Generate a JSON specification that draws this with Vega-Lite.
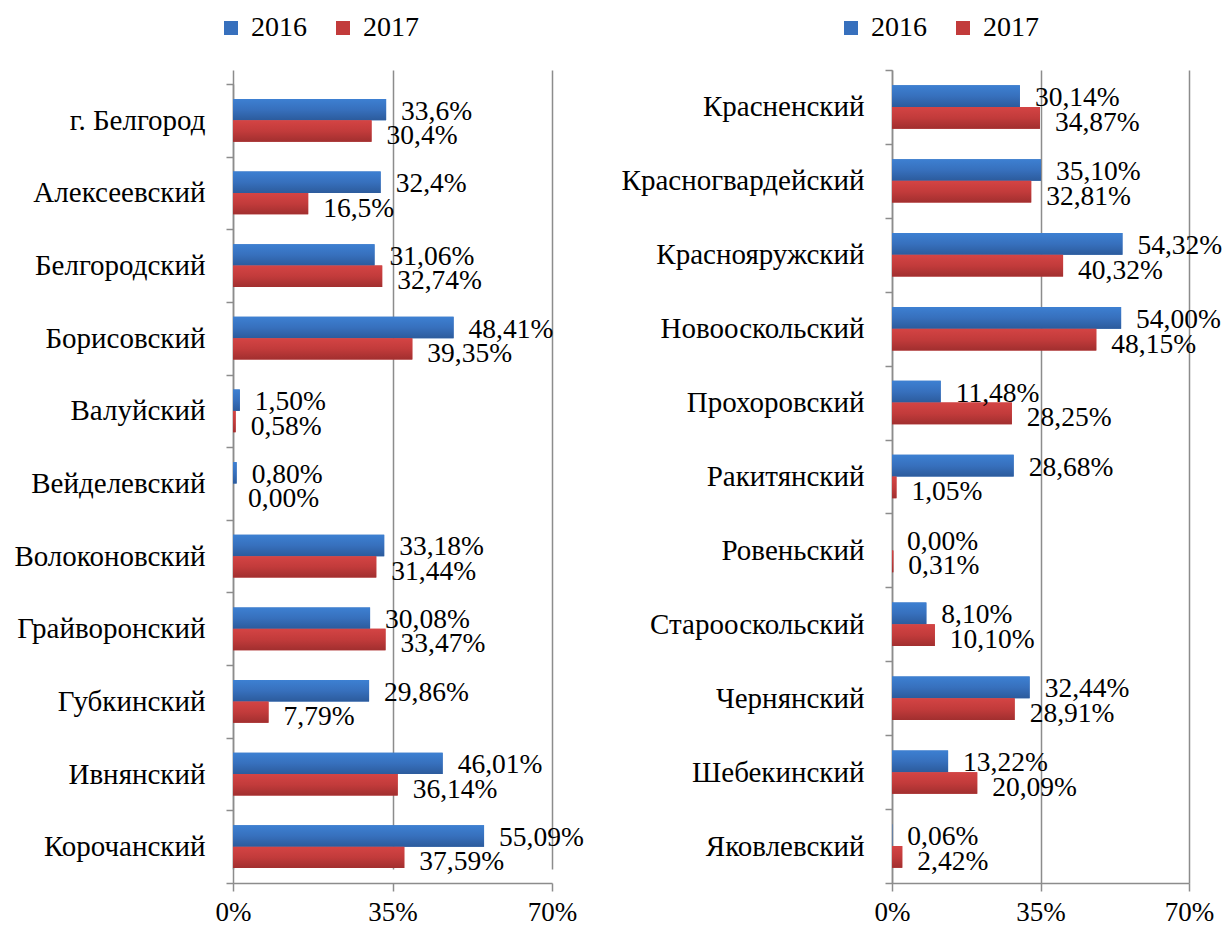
{
  "$schema": "https://vega.github.io/schema/vega-lite/v6.json",
  "padding": {"left": 13, "top": 14, "right": 2, "bottom": 0},
  "background": "white",
  "bounds": "flush",
  "spacing": 340,
  "config": {
    "view": {"stroke": null},
    "font": "Liberation Serif",
    "text": {"font": "Liberation Serif"},
    "axisY": {"title": null, "tickBand": "extent", "tickSize": 7, "labelFontSize": 29, "labelPadding": 21, "labelColor": "black", "domainColor": "#8c8c8c", "tickColor": "#8c8c8c", "domainWidth": 1.5, "tickWidth": 1.5, "labelLimit": 400, "grid": false, "labelFont": "Liberation Serif"},
    "axisX": {"title": null, "grid": true, "gridColor": "#8c8c8c", "gridWidth": 1.5, "domainColor": "#8c8c8c", "tickColor": "#8c8c8c", "domainWidth": 1.5, "tickWidth": 1.5, "tickSize": 8, "labelFontSize": 27, "labelPadding": 8, "labelColor": "black", "labelFlush": false, "labelFont": "Liberation Serif"},
    "legend": {"orient": "none", "direction": "horizontal", "title": null, "symbolType": "square", "symbolSize": 196, "symbolStrokeWidth": 0, "labelFontSize": 28, "labelFont": "Liberation Serif", "labelColor": "black", "labelOffset": 6, "columnPadding": 22, "legendY": -56}
  },
  "resolve": {"legend": {"color": "independent"}, "scale": {"x": "independent", "y": "independent", "color": "independent", "yOffset": "independent"}},
  "hconcat": [
    {
      "width": 319,
      "height": 813,
      "data": {"values": [
        {"district": "г. Белгород", "year": "2016", "value": 33.6, "label": "33,6%"},
        {"district": "г. Белгород", "year": "2017", "value": 30.4, "label": "30,4%"},
        {"district": "Алексеевский", "year": "2016", "value": 32.4, "label": "32,4%"},
        {"district": "Алексеевский", "year": "2017", "value": 16.5, "label": "16,5%"},
        {"district": "Белгородский", "year": "2016", "value": 31.06, "label": "31,06%"},
        {"district": "Белгородский", "year": "2017", "value": 32.74, "label": "32,74%"},
        {"district": "Борисовский", "year": "2016", "value": 48.41, "label": "48,41%"},
        {"district": "Борисовский", "year": "2017", "value": 39.35, "label": "39,35%"},
        {"district": "Валуйский", "year": "2016", "value": 1.5, "label": "1,50%"},
        {"district": "Валуйский", "year": "2017", "value": 0.58, "label": "0,58%"},
        {"district": "Вейделевский", "year": "2016", "value": 0.8, "label": "0,80%"},
        {"district": "Вейделевский", "year": "2017", "value": 0.0, "label": "0,00%"},
        {"district": "Волоконовский", "year": "2016", "value": 33.18, "label": "33,18%"},
        {"district": "Волоконовский", "year": "2017", "value": 31.44, "label": "31,44%"},
        {"district": "Грайворонский", "year": "2016", "value": 30.08, "label": "30,08%"},
        {"district": "Грайворонский", "year": "2017", "value": 33.47, "label": "33,47%"},
        {"district": "Губкинский", "year": "2016", "value": 29.86, "label": "29,86%"},
        {"district": "Губкинский", "year": "2017", "value": 7.79, "label": "7,79%"},
        {"district": "Ивнянский", "year": "2016", "value": 46.01, "label": "46,01%"},
        {"district": "Ивнянский", "year": "2017", "value": 36.14, "label": "36,14%"},
        {"district": "Корочанский", "year": "2016", "value": 55.09, "label": "55,09%"},
        {"district": "Корочанский", "year": "2017", "value": 37.59, "label": "37,59%"}
      ]},
      "encoding": {
        "y": {"field": "district", "type": "nominal", "sort": null, "scale": {"range": [14, 813], "paddingInner": 0, "paddingOuter": 0}},
        "yOffset": {"field": "year", "type": "nominal", "scale": {"paddingInner": 0, "paddingOuter": 0.7}},
        "x": {"field": "value", "type": "quantitative", "scale": {"domain": [0, 70]}, "axis": {"values": [0, 35, 70], "labelExpr": "datum.value + '%'"}}
      },
      "layer": [
        {"mark": {"type": "bar"}, "encoding": {"color": {"field": "year", "type": "nominal", "scale": {"domain": ["2016", "2017"], "range": ["#3770bd", "#c23b3b"]}, "legend": {"legendX": -16}}}},
        {"transform": [{"filter": "datum.year == '2016'"}], "mark": {"type": "bar", "color": {"gradient": "linear", "x1": 0, "y1": 0, "x2": 0, "y2": 1, "stops": [{"offset": 0, "color": "#3d80d2"}, {"offset": 0.5, "color": "#3770bd"}, {"offset": 1, "color": "#2c5b9c"}]}}},
        {"transform": [{"filter": "datum.year == '2017'"}], "mark": {"type": "bar", "color": {"gradient": "linear", "x1": 0, "y1": 0, "x2": 0, "y2": 1, "stops": [{"offset": 0, "color": "#d44444"}, {"offset": 0.5, "color": "#c23b3b"}, {"offset": 1, "color": "#a12f2f"}]}}},
        {"transform": [{"filter": "datum.year == '2016'"}], "mark": {"type": "text", "align": "left", "baseline": "middle", "dx": 15, "dy": 2, "fontSize": 27.5, "font": "Liberation Serif", "color": "black"}, "encoding": {"text": {"field": "label"}}},
        {"transform": [{"filter": "datum.year == '2017'"}], "mark": {"type": "text", "align": "left", "baseline": "middle", "dx": 15, "dy": 5, "fontSize": 27.5, "font": "Liberation Serif", "color": "black"}, "encoding": {"text": {"field": "label"}}}
      ]
    },
    {
      "width": 297,
      "height": 813,
      "data": {"values": [
        {"district": "Красненский", "year": "2016", "value": 30.14, "label": "30,14%"},
        {"district": "Красненский", "year": "2017", "value": 34.87, "label": "34,87%"},
        {"district": "Красногвардейский", "year": "2016", "value": 35.1, "label": "35,10%"},
        {"district": "Красногвардейский", "year": "2017", "value": 32.81, "label": "32,81%"},
        {"district": "Краснояружский", "year": "2016", "value": 54.32, "label": "54,32%"},
        {"district": "Краснояружский", "year": "2017", "value": 40.32, "label": "40,32%"},
        {"district": "Новооскольский", "year": "2016", "value": 54.0, "label": "54,00%"},
        {"district": "Новооскольский", "year": "2017", "value": 48.15, "label": "48,15%"},
        {"district": "Прохоровский", "year": "2016", "value": 11.48, "label": "11,48%"},
        {"district": "Прохоровский", "year": "2017", "value": 28.25, "label": "28,25%"},
        {"district": "Ракитянский", "year": "2016", "value": 28.68, "label": "28,68%"},
        {"district": "Ракитянский", "year": "2017", "value": 1.05, "label": "1,05%"},
        {"district": "Ровеньский", "year": "2016", "value": 0.0, "label": "0,00%"},
        {"district": "Ровеньский", "year": "2017", "value": 0.31, "label": "0,31%"},
        {"district": "Старооскольский", "year": "2016", "value": 8.1, "label": "8,10%"},
        {"district": "Старооскольский", "year": "2017", "value": 10.1, "label": "10,10%"},
        {"district": "Чернянский\u00a0", "year": "2016", "value": 32.44, "label": "32,44%"},
        {"district": "Чернянский\u00a0", "year": "2017", "value": 28.91, "label": "28,91%"},
        {"district": "Шебекинский", "year": "2016", "value": 13.22, "label": "13,22%"},
        {"district": "Шебекинский", "year": "2017", "value": 20.09, "label": "20,09%"},
        {"district": "Яковлевский", "year": "2016", "value": 0.06, "label": "0,06%"},
        {"district": "Яковлевский", "year": "2017", "value": 2.42, "label": "2,42%"}
      ]},
      "encoding": {
        "y": {"field": "district", "type": "nominal", "sort": null, "scale": {"paddingInner": 0, "paddingOuter": 0}},
        "yOffset": {"field": "year", "type": "nominal", "scale": {"paddingInner": 0, "paddingOuter": 0.7}},
        "x": {"field": "value", "type": "quantitative", "scale": {"domain": [0, 70]}, "axis": {"values": [0, 35, 70], "labelExpr": "datum.value + '%'"}}
      },
      "layer": [
        {"mark": {"type": "bar"}, "encoding": {"color": {"field": "year", "type": "nominal", "scale": {"domain": ["2016", "2017"], "range": ["#3770bd", "#c23b3b"]}, "legend": {"legendX": -55}}}},
        {"transform": [{"filter": "datum.year == '2016'"}], "mark": {"type": "bar", "color": {"gradient": "linear", "x1": 0, "y1": 0, "x2": 0, "y2": 1, "stops": [{"offset": 0, "color": "#3d80d2"}, {"offset": 0.5, "color": "#3770bd"}, {"offset": 1, "color": "#2c5b9c"}]}}},
        {"transform": [{"filter": "datum.year == '2017'"}], "mark": {"type": "bar", "color": {"gradient": "linear", "x1": 0, "y1": 0, "x2": 0, "y2": 1, "stops": [{"offset": 0, "color": "#d44444"}, {"offset": 0.5, "color": "#c23b3b"}, {"offset": 1, "color": "#a12f2f"}]}}},
        {"transform": [{"filter": "datum.year == '2016'"}], "mark": {"type": "text", "align": "left", "baseline": "middle", "dx": 15, "dy": 2, "fontSize": 27.5, "font": "Liberation Serif", "color": "black"}, "encoding": {"text": {"field": "label"}}},
        {"transform": [{"filter": "datum.year == '2017'"}], "mark": {"type": "text", "align": "left", "baseline": "middle", "dx": 15, "dy": 5, "fontSize": 27.5, "font": "Liberation Serif", "color": "black"}, "encoding": {"text": {"field": "label"}}}
      ]
    }
  ]
}
